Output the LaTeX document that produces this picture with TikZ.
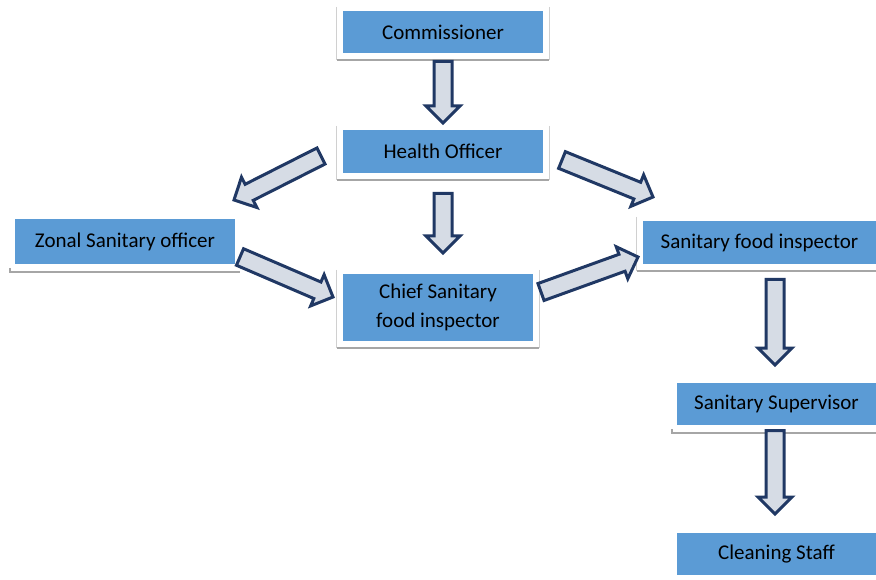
\documentclass[tikz,border=0pt]{standalone}
\usepackage{fontspec}
\setmainfont{Carlito}
\usetikzlibrary{calc}
\definecolor{boxblue}{HTML}{5B9BD5}
\definecolor{navy}{HTML}{203864}
\definecolor{arrowfill}{HTML}{D6DCE5}
\definecolor{framegray}{HTML}{D0D0D0}
\definecolor{shadegray}{HTML}{A6A6A6}
\tikzset{post/.style={fill=boxblue,inner sep=2pt,align=center,font=\fontsize{21}{28.5}\selectfont},frame/.style={draw=framegray,line width=1.3pt},shade/.style={draw=shadegray,line width=2pt},blockarrow/.style={draw=navy,fill=arrowfill,line width=3pt,line join=miter}}
\newcommand\bigarrow[2]{%
  \coordinate (h) at ($(#2)!17pt!(#1)$);
  \draw[blockarrow] ($(#1)!9pt!90:(#2)$) -- ($(h)!9pt!-90:(#1)$) -- ($(h)!17pt!-90:(#1)$) -- (#2)
    -- ($(h)!17pt!90:(#1)$) -- ($(h)!9pt!90:(#1)$) -- ($(#1)!9pt!-90:(#2)$) -- cycle;}

\begin{document}
\begin{tikzpicture}[x=1pt,y=-1pt]
\useasboundingbox (0,0) rectangle (876,580);
\node[post,minimum width=200pt,minimum height=42pt] (com) at (443,32) {Commissioner};
\node[post,minimum width=200pt,minimum height=43pt] (ho) at (443,151.5) {Health Officer};
\node[post,minimum width=220pt,minimum height=45pt] (zso) at (125,241.5) {Zonal Sanitary officer};
\node[post,minimum width=233pt,minimum height=43pt] (sfi) at (759.5,242.5) {Sanitary food inspector};
\node[post,minimum width=190pt,minimum height=67pt] (csfi) at (438,307.5) {Chief Sanitary\\food inspector};
\node[post,minimum width=199pt,minimum height=42pt] (ss) at (776.5,404) {Sanitary Supervisor};
\node[post,minimum width=199pt,minimum height=42pt] (cs) at (776.5,554) {Cleaning Staff};
% frames behind the boxes
\foreach \n in {com,ho,csfi,sfi}{
  \draw[frame] ([xshift=-6pt,yshift=4pt]\n.north west) -- ([xshift=-6pt,yshift=-7pt]\n.south west);
  \draw[frame] ([xshift=6pt,yshift=4pt]\n.north east) -- ([xshift=6pt,yshift=-7pt]\n.south east);
  \draw[shade] ([xshift=-6pt,yshift=-7pt]\n.south west) -- ([xshift=6pt,yshift=-7pt]\n.south east);}
\foreach \n in {zso,ss}
  \draw[shade] ([xshift=-5pt,yshift=-4pt]\n.south west) -- ([xshift=-5pt,yshift=-7.5pt]\n.south west)
    -- ([xshift=5pt,yshift=-7.5pt]\n.south east);
% arrow ends
\coordinate (t1) at (443,61.5);  \coordinate (e1) at (443,123);
\coordinate (t2) at (443,193.5); \coordinate (e2) at (443,253);
\coordinate (t3) at (321,156);   \coordinate (e3) at (234,200);
\coordinate (t4) at (562,160);   \coordinate (e4) at (653,197);
\coordinate (t5) at (240,257);   \coordinate (e5) at (333,297);
\coordinate (t6) at (541,292);   \coordinate (e6) at (638,257);
\coordinate (t7) at (775,279.5); \coordinate (e7) at (775,365);
\coordinate (t8) at (775,430.5); \coordinate (e8) at (775,514);
\foreach \i in {1,...,8}{\bigarrow{t\i}{e\i}}
\end{tikzpicture}
\end{document}
